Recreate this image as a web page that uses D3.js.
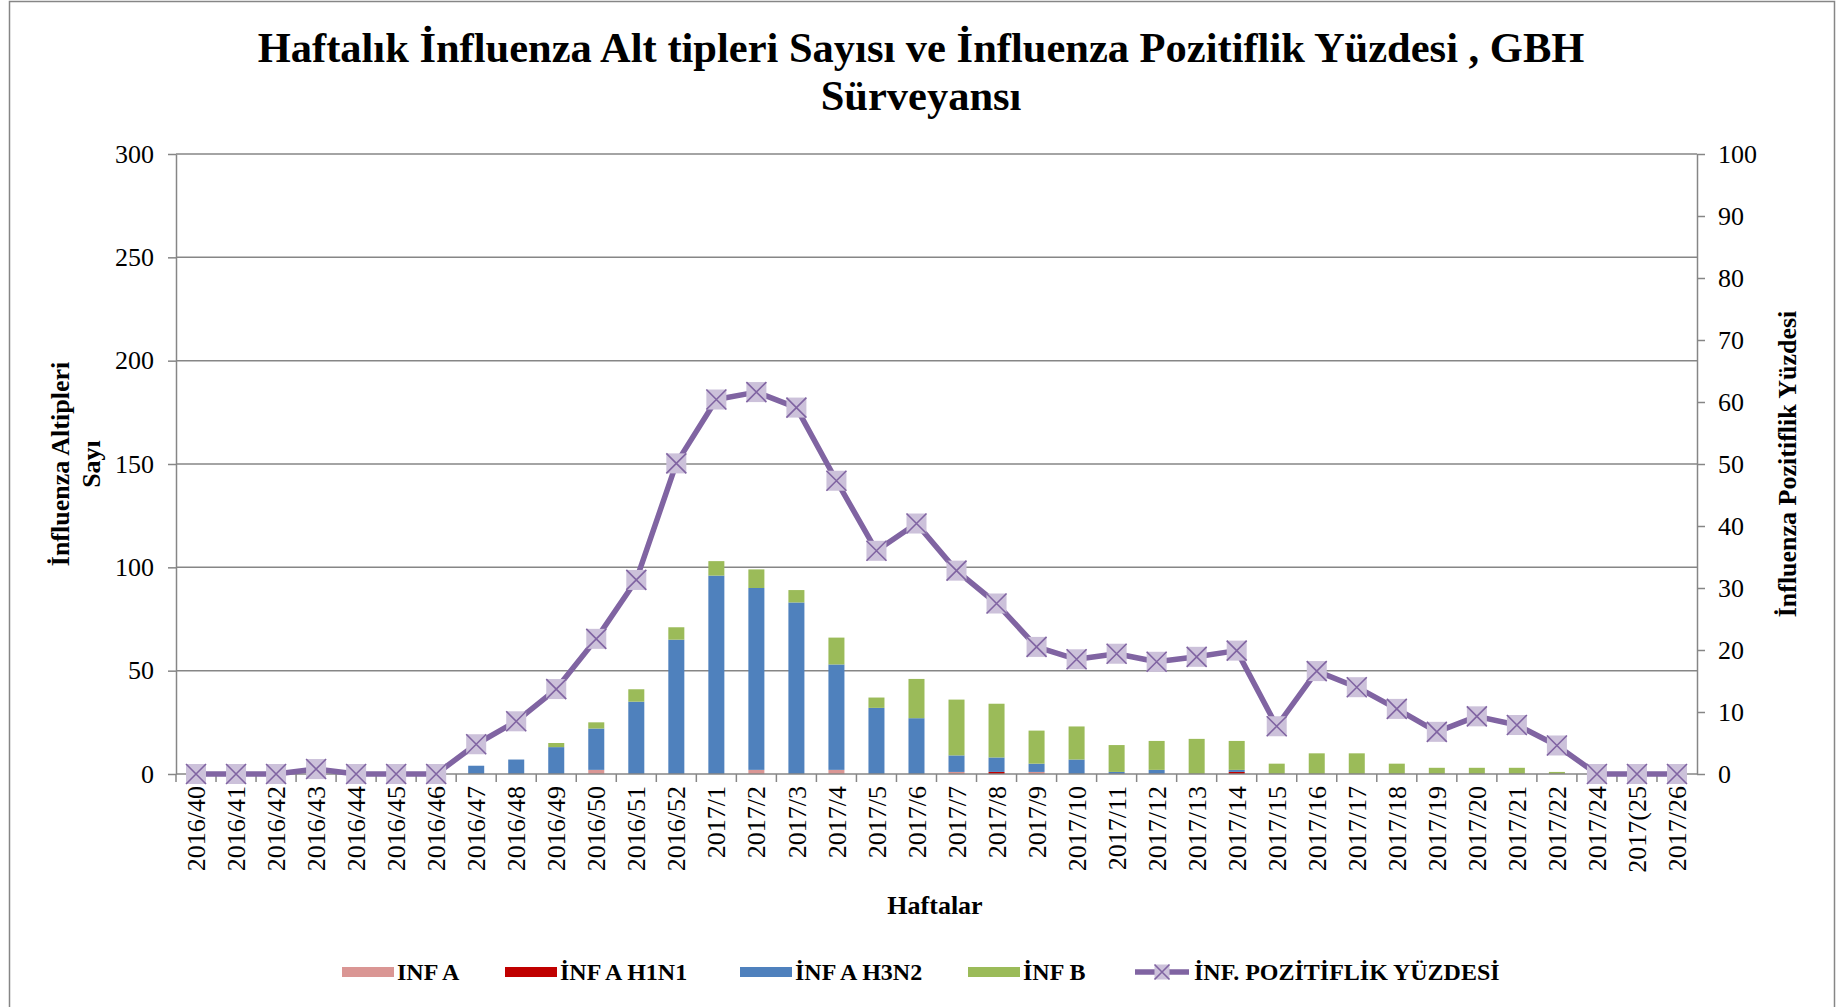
<!DOCTYPE html>
<html>
<head>
<meta charset="utf-8">
<script src="https://cdn.jsdelivr.net/npm/d3@7"></script>
<style>
  body { margin: 0; background: #fff; }
  svg { display: block; font-family: "Liberation Serif", "Times New Roman", serif; }
</style>
</head>
<body>
<svg id="chart" width="1843" height="1007"></svg>
<script>
// weekly counts per subtype
let weeks = ["2016/40","2016/41","2016/42","2016/43","2016/44","2016/45","2016/46","2016/47","2016/48","2016/49",
    "2016/50","2016/51","2016/52","2017/1","2017/2","2017/3","2017/4","2017/5","2017/6","2017/7",
    "2017/8","2017/9","2017/10","2017/11","2017/12","2017/13","2017/14","2017/15","2017/16","2017/17",
    "2017/18","2017/19","2017/20","2017/21","2017/22","2017/24","2017(25","2017/26"];
let infA = [0,0,0,0,0,0,0,0,0,0, 2,0,0,0,2,0,2,0,0,1, 0,1,0,0,0,0,0,0,0,0, 0,0,0,0,0,0,0,0];
let h1n1 = [0,0,0,0,0,0,0,0,0,0, 0,0,0,0,0,0,0,0,0,0, 1,0,0,0,0,0,1,0,0,0, 0,0,0,0,0,0,0,0];
let h3n2 = [0,0,0,0,0,0,0,4,7,13, 20,35,65,96,88,83,51,32,27,8, 7,4,7,1,2,0,1,0,0,0, 0,0,0,0,0,0,0,0];
let infB = [0,0,0,0,0,0,0,0,0,2, 3,6,6,7,9,6,13,5,19,27, 26,16,16,13,14,17,14,5,10,10, 5,3,3,3,1,0,0,0];
let pct  = [0,0,0,0.8,0,0,0,4.8,8.5,13.7, 21.8,31.3,50.1,60.4,61.6,59.1,47.3,36.0,40.4,32.8,
    27.5,20.5,18.5,19.4,18.1,18.9,19.9,7.7,16.6,14.0, 10.5,6.8,9.3,7.9,4.6,0,0,0];

let leftTicks = [0,50,100,150,200,250,300];
let rightTicks = [0,10,20,30,40,50,60,70,80,90,100];

let keys = ["infA","h1n1","h3n2","infB"];
let names = {infA: "INF A", h1n1: "İNF A H1N1", h3n2: "İNF A H3N2", infB: "İNF B"};
let colors = {infA: "#DA9694", h1n1: "#C00000", h3n2: "#4F81BD", infB: "#9BBB59"};
let lineColor = "#8064A2", markFill = "#CCC1DA", gray = "#868686";

let svg = d3.select("#chart");
let plotL = 176, plotR = 1697, plotT = 154, plotB = 774;

// chart frame (bottom edge runs off the page)
svg.append("rect").attr("x", 9.5).attr("y", 1.5).attr("width", 1825).attr("height", 1012)
    .attr("fill", "#fff").attr("stroke", gray).attr("stroke-width", 1.5);

let x = d3.scaleBand().domain(weeks).range([plotL, plotR]).paddingInner(0.6).paddingOuter(0.3);
let step = x.step(), bw = x.bandwidth();
let cx = d => x(d) + bw / 2;
let yL = d3.scaleLinear().domain([0, 300]).range([plotB, plotT]);
let yR = d3.scaleLinear().domain([0, 100]).range([plotB, plotT]);

// gridlines
svg.append("g").selectAll("line").data(leftTicks.slice(1)).join("line")
    .attr("x1", plotL).attr("x2", plotR).attr("y1", d => yL(d)).attr("y2", d => yL(d))
    .attr("stroke", gray).attr("stroke-width", 1.5);

// stacked bars
let table = weeks.map((w, i) => ({week: w, infA: infA[i], h1n1: h1n1[i], h3n2: h3n2[i], infB: infB[i]}));
let series = d3.stack().keys(keys)(table);
svg.append("g").selectAll("g").data(series).join("g")
    .attr("fill", s => colors[s.key])
    .selectAll("rect").data(s => s).join("rect")
    .attr("x", d => x(d.data.week))
    .attr("width", bw)
    .attr("y", d => yL(d[1]))
    .attr("height", d => yL(d[0]) - yL(d[1]));

// axes
function styleAxis(g) {
    g.selectAll("path, line").attr("stroke", gray).attr("stroke-width", 1.5);
    g.selectAll("text").attr("font-size", 26).attr("fill", "#000")
        .attr("font-family", "'Liberation Serif', 'Times New Roman', serif");
}
svg.append("g").attr("transform", `translate(${plotL},0)`)
    .call(d3.axisLeft(yL).tickValues(leftTicks).tickSize(8).tickSizeOuter(0).tickPadding(14))
    .call(styleAxis);
svg.append("g").attr("transform", `translate(${plotR},0)`)
    .call(d3.axisRight(yR).tickValues(rightTicks).tickSize(8).tickSizeOuter(0).tickPadding(13))
    .call(styleAxis);

// x axis: baseline, ticks between categories, rotated labels
let xg = svg.append("g");
xg.append("line").attr("x1", plotL).attr("x2", plotR).attr("y1", plotB).attr("y2", plotB)
    .attr("stroke", gray).attr("stroke-width", 1.5);
xg.selectAll("line.tk").data(weeks).join("line").attr("class", "tk")
    .attr("x1", d => cx(d) - step / 2).attr("x2", d => cx(d) - step / 2)
    .attr("y1", plotB).attr("y2", plotB + 8)
    .attr("stroke", gray).attr("stroke-width", 1.5);
xg.selectAll("text").data(weeks).join("text")
    .attr("transform", d => `translate(${cx(d)},${plotB + 12}) rotate(-90)`)
    .attr("text-anchor", "end").attr("dy", "0.35em")
    .attr("font-size", 26).text(d => d);

// percentage line with markers
let line = d3.line().x((d, i) => cx(weeks[i])).y(d => yR(d));
svg.append("path").datum(pct).attr("d", line)
    .attr("fill", "none").attr("stroke", lineColor).attr("stroke-width", 5.5)
    .attr("stroke-linejoin", "round");

function marker(g, s) {
    g.append("rect").attr("x", -s / 2).attr("y", -s / 2).attr("width", s).attr("height", s)
        .attr("fill", markFill);
    g.append("path").attr("d", `M${-s/2},${-s/2}L${s/2},${s/2}M${-s/2},${s/2}L${s/2},${-s/2}`)
        .attr("stroke", lineColor).attr("stroke-width", 1.6);
}
svg.append("g").selectAll("g").data(pct).join("g")
    .attr("transform", (d, i) => `translate(${cx(weeks[i])},${yR(d)})`)
    .each(function () { marker(d3.select(this), 20); });

// titles
let title = svg.append("text").attr("text-anchor", "middle").attr("font-weight", "bold").attr("font-size", 42.5);
title.append("tspan").attr("x", 921).attr("y", 62)
    .text("Haftalık İnfluenza Alt tipleri Sayısı ve İnfluenza Pozitiflik Yüzdesi , GBH");
title.append("tspan").attr("x", 921).attr("y", 110).text("Sürveyansı");

svg.append("text").attr("x", 935).attr("y", 914).attr("text-anchor", "middle")
    .attr("font-weight", "bold").attr("font-size", 26).text("Haftalar");

let yt = svg.append("text").attr("transform", "translate(0,464) rotate(-90)")
    .attr("text-anchor", "middle").attr("font-weight", "bold").attr("font-size", 26);
yt.append("tspan").attr("x", 0).attr("y", 60).attr("dy", "0.35em").text("İnfluenza Altipleri");
yt.append("tspan").attr("x", 0).attr("y", 91).attr("dy", "0.35em").text("Sayı");

svg.append("text").attr("transform", "translate(1787,464) rotate(-90)")
    .attr("text-anchor", "middle").attr("dy", "0.35em")
    .attr("font-weight", "bold").attr("font-size", 26).text("İnfluenza Pozitiflik Yüzdesi");

// legend
let ly = 972;
let legendX = {infA: 342, h1n1: 505, h3n2: 740, infB: 968};
let lg = svg.append("g").attr("font-weight", "bold").attr("font-size", 24);
keys.forEach(k => {
    lg.append("rect").attr("x", legendX[k]).attr("y", ly - 5).attr("width", 52).attr("height", 10)
        .attr("fill", colors[k]);
    lg.append("text").attr("x", legendX[k] + 55).attr("y", ly + 8).text(names[k]);
});
lg.append("line").attr("x1", 1135).attr("x2", 1189).attr("y1", ly).attr("y2", ly)
    .attr("stroke", lineColor).attr("stroke-width", 5.5);
marker(lg.append("g").attr("transform", `translate(1162,${ly})`), 15);
lg.append("text").attr("x", 1194).attr("y", ly + 8).text("İNF. POZİTİFLİK YÜZDESİ");
</script>
</body>
</html>
